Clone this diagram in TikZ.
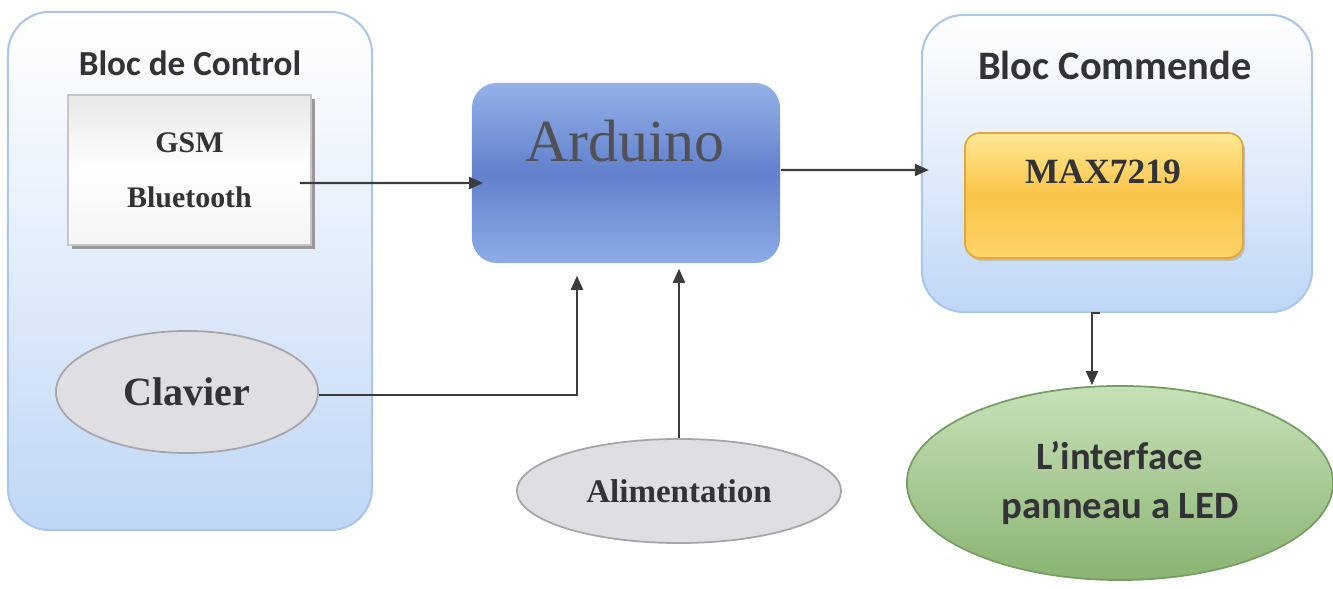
\documentclass[tikz,border=0pt]{standalone}
\usepackage{fontspec}
\setmainfont{Liberation Serif}
\newfontfamily\calib{Carlito}
\usetikzlibrary{arrows.meta,shapes.geometric,shadows}

\definecolor{txtgray}{RGB}{50,50,55}
\definecolor{lineg}{RGB}{60,60,60}
\definecolor{blocblue}{RGB}{190,214,246}
\definecolor{blocedge}{RGB}{172,198,234}
\definecolor{ardtop}{RGB}{148,178,232}
\definecolor{ardmid}{RGB}{98,128,204}
\definecolor{ardbot}{RGB}{140,172,230}
\definecolor{maxtop}{RGB}{255,232,150}
\definecolor{maxmid}{RGB}{250,196,72}
\definecolor{maxbot}{RGB}{250,212,104}
\definecolor{maxedge}{RGB}{226,168,60}
\definecolor{ellgray}{RGB}{222,222,227}
\definecolor{elledge}{RGB}{165,165,170}
\definecolor{ledtop}{RGB}{200,224,184}
\definecolor{ledbot}{RGB}{138,180,114}
\definecolor{ledge}{RGB}{118,158,98}

\begin{document}
\begin{tikzpicture}[x=0.01cm, y=-0.01cm,
	bloc/.style={draw=blocedge, line width=0.6pt, rounded corners=0.42cm,
		top color=white, bottom color=blocblue, middle color=white!55!blocblue},
	grisbox/.style={draw=gray!45, line width=0.4pt, top color=gray!18, bottom color=gray!8,
		middle color=white, drop shadow={shadow xshift=0.04cm, shadow yshift=-0.04cm, fill=gray!80, opacity=1}},
	ardbox/.style={rounded corners=0.25cm, top color=ardtop, bottom color=ardbot, middle color=ardmid},
	maxbox/.style={draw=maxedge, line width=0.5pt, rounded corners=0.15cm,
		top color=maxtop, bottom color=maxbot, middle color=maxmid,
		drop shadow={shadow xshift=0.02cm, shadow yshift=-0.03cm, fill=gray!50, opacity=1}},
	ell/.style={ellipse, draw=elledge, line width=0.5pt, fill=ellgray},
	ledell/.style={ellipse, draw=ledge, line width=0.5pt, top color=ledtop, bottom color=ledbot},
	titre/.style={font=\calib\bfseries\fontsize{10}{12}\selectfont, text=txtgray},
	arr/.style={draw=lineg, line width=0.6pt, -{Triangle[length=0.14cm, width=0.12cm]}},
]
	\useasboundingbox (0,0) rectangle (1333,589);

	\node[bloc, minimum width=3.64cm, minimum height=5.18cm] (ctrl) at (190,271) {};
	\node[bloc, minimum width=3.90cm, minimum height=2.97cm] (cmd) at (1117,163.5) {};
	\node[titre] (ctrltxt) at (190,63) {Bloc de Control};
	\node[titre, font=\calib\bfseries\fontsize{11.5}{13}\selectfont] (cmdtxt) at (1115,65) {Bloc Commende};

	\node[grisbox, minimum width=2.43cm, minimum height=1.50cm, align=center, text=txtgray,
		font=\bfseries\fontsize{8.5}{15.6}\selectfont] (gsm) at (189.5,170) {GSM\\Bluetooth};
	\node[ell, minimum width=2.62cm, minimum height=1.22cm, text=txtgray,
		font=\bfseries\fontsize{11.4}{13}\selectfont] (clav) at (187,392) {Clavier};

	\node[ardbox, minimum width=3.08cm, minimum height=1.80cm] (ard) at (626,173) {};
	\node[text=txtgray!85, font=\fontsize{17}{20}\selectfont] (ardtxt) at (625,141) {Arduino};
	\node[ell, minimum width=3.24cm, minimum height=1.04cm, text=txtgray,
		font=\bfseries\fontsize{9.4}{11}\selectfont] (ali) at (679,491) {Alimentation};

	\node[maxbox, minimum width=2.78cm, minimum height=1.25cm] (max) at (1104,195.5) {};
	\node[text=txtgray, font=\bfseries\fontsize{10.1}{12}\selectfont] (maxtxt) at (1103,172) {MAX7219};
	\node[ledell, minimum width=4.26cm, minimum height=1.94cm, align=center, text=txtgray,
		font=\calib\bfseries\fontsize{11}{14}\selectfont] (led) at (1120,483) {L’interface\\panneau a LED};

	\coordinate (ardin) at ([yshift=-0.05cm]ard.south);
	\coordinate (ledin) at ([xshift=-0.28cm]led.north);
	\draw[arr] ([xshift=-0.12cm,yshift=-0.13cm]gsm.east) -- ([xshift=0.12cm,yshift=-0.10cm]ard.west);
	\draw[arr] ([yshift=0.03cm]ard.east) -- ([xshift=0.08cm,yshift=-0.065cm]cmd.west);
	\draw[arr] ([yshift=-0.03cm]clav.east) -| ([xshift=-0.49cm,yshift=-0.12cm]ard.south);
	\draw[arr] (ali.north) -- (ali.north |- ardin);
	\draw[arr] ([xshift=-0.17cm]cmd.south) -| (ledin);
\end{tikzpicture}
\end{document}
